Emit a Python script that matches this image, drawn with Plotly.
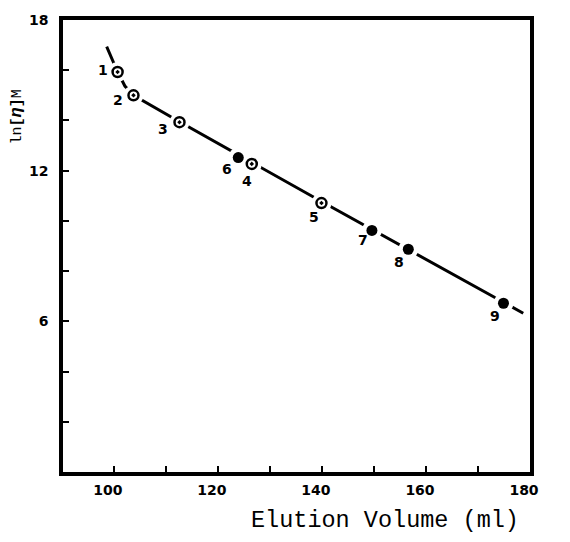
import plotly.graph_objects as go

# Data
pt_labels = ["1", "2", "3", "4", "5", "6", "7", "8", "9"]
elution_ml = [100.7, 103.75, 112.6, 126.5, 139.9, 123.9, 149.6, 156.6, 174.9]
ln_eta_m = [15.93, 15.0, 13.93, 12.27, 10.71, 12.52, 9.62, 8.87, 6.72]
open_marker = [True, True, True, True, True, False, False, False, False]

# Hand-drawn calibration curve
curve_x = [98.6, 99.9, 100.7, 102.1, 103.75, 112.6, 139.9, 174.9, 178.7]
curve_y = [16.94, 16.29, 15.93, 15.37, 15.0, 13.95, 10.77, 6.76, 6.32]

x_tickvals = [100, 110, 120, 130, 140, 150, 160, 170, 180]
x_ticktext = ["100", "", "120", "", "140", "", "160", "", "180"]
y_tickvals = [0, 2, 4, 6, 8, 10, 12, 14, 16, 18]
y_ticktext = ["", "", "", "6", "", "", "12", "", "", "18"]

# label offsets in pixels (dx, dy screen)
label_off = {"1": (-15, -2), "2": (-15, 5), "3": (-16, 7), "4": (-5, 17), "5": (-7, 14),
             "6": (-11, 11), "7": (-9, 10), "8": (-9, 13), "9": (-8, 13)}

TICKFONT = "DejaVu Sans, Liberation Sans, Arial"

fig = go.Figure()
fig.add_trace(go.Scatter(x=curve_x, y=curve_y, mode="lines",
                         line=dict(color="black", width=3), hoverinfo="skip"))
# white halos to break the line at each point
fig.add_trace(go.Scatter(x=elution_ml, y=ln_eta_m, mode="markers",
                         marker=dict(color="white", size=20, line=dict(width=0)), hoverinfo="skip"))
ox = [x for x, o in zip(elution_ml, open_marker) if o]
oy = [y for y, o in zip(ln_eta_m, open_marker) if o]
fx = [x for x, o in zip(elution_ml, open_marker) if not o]
fy = [y for y, o in zip(ln_eta_m, open_marker) if not o]
fig.add_trace(go.Scatter(x=ox, y=oy, mode="markers",
                         marker=dict(symbol="circle-dot", color="white", size=10,
                                     line=dict(color="black", width=2.5))))
fig.add_trace(go.Scatter(x=fx, y=fy, mode="markers",
                         marker=dict(symbol="circle", color="black", size=11,
                                     line=dict(color="black", width=0))))

for lab, x, y in zip(pt_labels, elution_ml, ln_eta_m):
    dx, dy = label_off[lab]
    fig.add_annotation(x=x, y=y, text="<b>%s</b>" % lab, showarrow=False,
                       xshift=dx, yshift=-dy,
                       font=dict(family=TICKFONT, size=14, color="black"))

fig.add_annotation(xref="paper", yref="paper", x=-0.1, y=0.785, xanchor="center", yanchor="middle",
                   text="ln<b>[<i><span style='font-size:17px'>η</span></i>]</b>M", textangle=-90,
                   showarrow=False,
                   font=dict(family="Liberation Mono, Courier New", size=15, color="black"))
fig.add_annotation(xref="paper", yref="paper", x=0.69, y=-0.107, xanchor="center", yanchor="middle",
                   text="Elution Volume (ml)", showarrow=False,
                   font=dict(family="Liberation Mono, Courier New", size=23.5, color="black"))

fig.update_xaxes(range=[90.2, 180], tickmode="array", tickvals=x_tickvals, ticktext=x_ticktext,
                 ticks="inside", ticklen=6, tickwidth=2, tickcolor="black",
                 showline=True, linewidth=3.5, linecolor="black", mirror=True,
                 showgrid=False, zeroline=False, ticklabelshift=-6, ticklabelstandoff=2,
                 tickfont=dict(family=TICKFONT, size=14, color="black", weight="bold"))
fig.update_yaxes(range=[0, 18], tickmode="array", tickvals=y_tickvals, ticktext=y_ticktext,
                 ticks="inside", ticklen=6, tickwidth=2, tickcolor="black",
                 showline=True, linewidth=3.5, linecolor="black", mirror=True,
                 showgrid=False, zeroline=False, ticklabelstandoff=8,
                 tickfont=dict(family=TICKFONT, size=14, color="black", weight="bold"))

fig.update_layout(width=570, height=542, margin=dict(l=63, r=40, t=13, b=70),
                  plot_bgcolor="white", paper_bgcolor="white", showlegend=False)

fig.write_html("out.html")
